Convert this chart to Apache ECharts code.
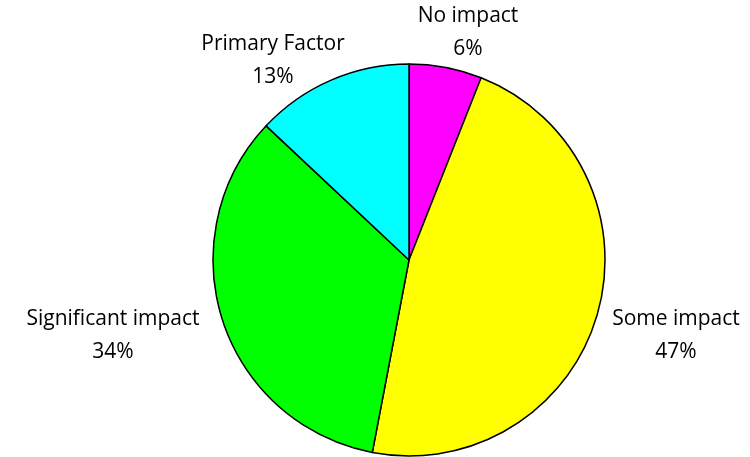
<!DOCTYPE html>
<html>
<head>
<meta charset="utf-8">
<script src="https://cdn.jsdelivr.net/npm/echarts@6/dist/echarts.min.js"></script>
<style>
  html, body { margin: 0; padding: 0; background: #fff; }
  #main { width: 750px; height: 457px; }
</style>
</head>
<body>
<div id="main"></div>
<script>
// slices, clockwise from 12 o'clock
var categories = ["No impact", "Some impact", "Significant impact", "Primary Factor"];
var values = [6, 47, 34, 13];
var colors = ["#ff00ff", "#ffff00", "#00ff00", "#00ffff"];
// label anchor (centre of the two-line text block)
var labelPos = [[468, 33], [676, 336], [113, 336], [273, 61]];

var myChart = echarts.init(document.getElementById("main"));
var option = {
  animation: false,
  textStyle: { fontFamily: "Open Sans" },
  series: [
    {
      type: "pie",
      center: [409, 260],
      radius: 196,
      startAngle: 90,
      clockwise: true,
      data: categories.map(function (c, i) {
        return { name: c, value: values[i], itemStyle: { color: colors[i] } };
      }),
      itemStyle: { borderColor: "#000", borderWidth: 1.5 },
      label: {
        show: true,
        position: "outside",
        formatter: "{b}\n{d}%",
        color: "#000",
        fontSize: 21,
        lineHeight: 33,
        fontFamily: "Open Sans",
        align: "center",
        overflow: "none"
      },
      labelLine: { show: false },
      labelLayout: function (p) {
        var pos = labelPos[p.dataIndex];
        return { x: pos[0], y: pos[1], align: "center", verticalAlign: "middle" };
      },
      emphasis: { disabled: true }
    }
  ]
};
myChart.setOption(option);
</script>
</body>
</html>
